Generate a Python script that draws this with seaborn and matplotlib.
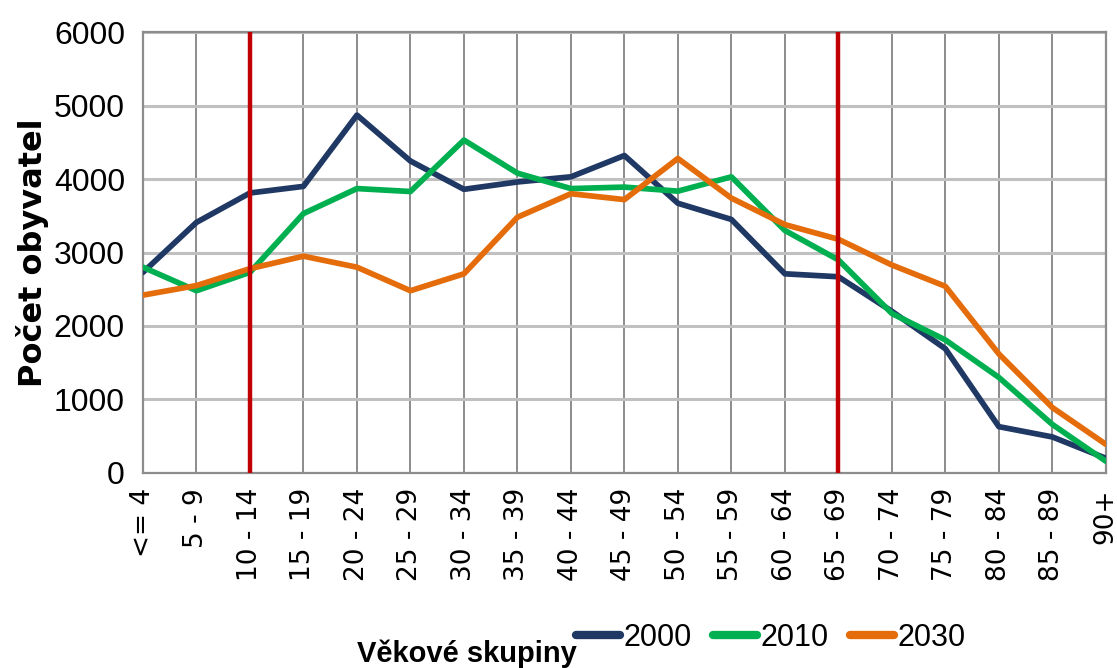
"""
Počet obyvatel podle věkových skupin (2000, 2010, 2030).
"""
import pandas as pd
import matplotlib
matplotlib.use("Agg")
import matplotlib.pyplot as plt
import seaborn as sns

# věkové skupiny
groups = ["<= 4", "5 - 9", "10 - 14", "15 - 19", "20 - 24", "25 - 29", "30 - 34",
          "35 - 39", "40 - 44", "45 - 49", "50 - 54", "55 - 59", "60 - 64",
          "65 - 69", "70 - 74", "75 - 79", "80 - 84", "85 - 89", "90+"]

pop_2000 = [2730, 3410, 3810, 3900, 4870, 4245, 3860, 3960, 4030, 4320,
            3670, 3450, 2710, 2670, 2200, 1690, 630, 490, 200]
pop_2010 = [2800, 2480, 2730, 3530, 3870, 3830, 4530, 4080, 3870, 3890,
            3835, 4030, 3300, 2900, 2170, 1810, 1300, 660, 160]
pop_2030 = [2420, 2550, 2780, 2950, 2800, 2480, 2710, 3480, 3800, 3720,
            4280, 3740, 3380, 3180, 2830, 2540, 1620, 890, 390]

years = ["2000", "2010", "2030"]
colors = ["#1F3864", "#00B050", "#E46C0A"]

# hranice produktivního věku
marker_groups = ["10 - 14", "65 - 69"]

narrow = ["Liberation Sans", "DejaVu Sans"]

df = pd.DataFrame({"skupina": groups, "2000": pop_2000, "2010": pop_2010, "2030": pop_2030})
df = df.melt(id_vars="skupina", var_name="rok", value_name="pocet")

sns.set_style("white")
plt.rcParams["font.family"] = ["DejaVu Sans"]
plt.rcParams["text.color"] = "black"
plt.rcParams["xtick.color"] = "black"
plt.rcParams["ytick.color"] = "black"
plt.rcParams["axes.labelcolor"] = "black"

fig = plt.figure(figsize=(11.17, 6.68), dpi=100)
ax = fig.add_axes([0.128, 0.292, 0.862, 0.660])

# mřížka
for i in range(len(groups)):
    ax.axvline(i, color="#8c8c8c", lw=1.4, zorder=0)
for v in range(0, 6001, 1000):
    ax.axhline(v, color="#c0c0c0", lw=2.2, zorder=0)

sns.lineplot(data=df, x="skupina", y="pocet", hue="rok", hue_order=years,
             palette=colors, sort=False, lw=4.1, ax=ax, legend=False, zorder=3)

for g in marker_groups:
    ax.axvline(groups.index(g), color="#C00000", lw=3.2, zorder=4)

ax.set_xlim(0, len(groups) - 1)
ax.set_ylim(0, 6000)
ax.set_yticks(range(0, 6001, 1000))
ax.set_yticklabels([str(v) for v in range(0, 6001, 1000)], family=narrow, fontsize=23)
ax.set_xticks(range(len(groups)))
ax.set_xticklabels(groups, rotation=90, fontsize=19, va="top", ha="center")
ax.tick_params(axis="y", length=7, width=1.4, color="#8c8c8c", pad=6, labelcolor="black")
ax.tick_params(axis="x", length=5, width=1.4, color="#8c8c8c", pad=6, labelcolor="black")

for s in ax.spines.values():
    s.set_color("#8c8c8c")
    s.set_linewidth(1.6)

ax.set_xlabel("")
ax.set_ylabel("Počet obyvatel", fontsize=23, fontweight="bold", color="black")
ax.yaxis.set_label_coords(-0.098, 0.5)

fig.text(0.418, 0.022, "Věkové skupiny", family=narrow, fontsize=21,
         fontweight="bold", ha="center", va="center")

handles = [plt.Line2D([], [], color=c, lw=6) for c in colors]
fig.legend(handles, years, loc="center", bbox_to_anchor=(0.69, 0.045), ncol=3,
           frameon=False, prop={"family": narrow, "size": 22},
           handlelength=1.45, handletextpad=0.1, columnspacing=0.7)

fig.savefig("out.png", dpi=100)
